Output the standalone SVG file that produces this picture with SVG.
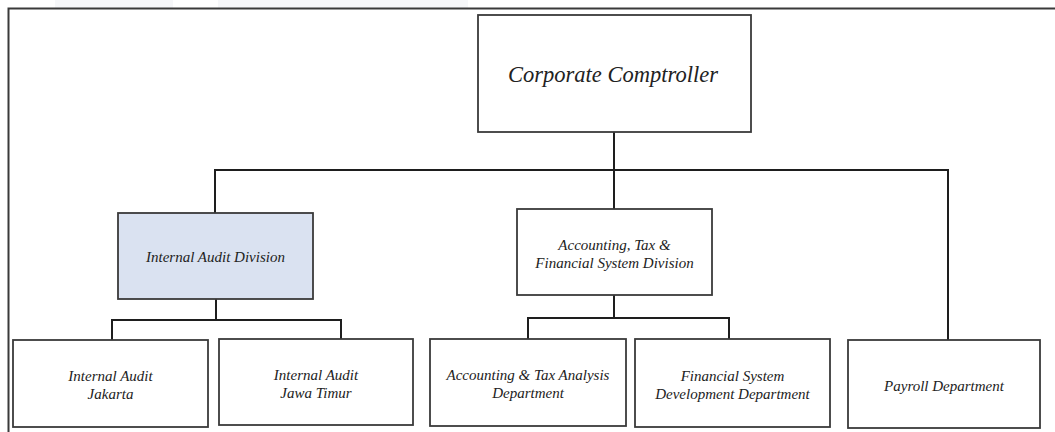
<svg xmlns="http://www.w3.org/2000/svg" width="1055" height="432" viewBox="0 0 1055 432">
<style>
.box{fill:#fff;stroke:#3a3a3a;stroke-width:1.8}
.hl{fill:#dae2f1}
.t{font-family:'Liberation Serif','Times New Roman',Times,serif;font-style:italic;font-size:15px;fill:#222;text-anchor:middle}
.big{font-size:23px}
.ln{fill:none;stroke:#1e1e1e;stroke-width:2}
</style>
<rect x="0" y="0" width="1055" height="432" fill="#fff"/>
<rect x="55" y="0" width="118" height="8" fill="#f6f7f9"/>
<rect x="218" y="0" width="250" height="8" fill="#f6f7f9"/>
<path d="M8.5,432 V8.5 H1055" fill="none" stroke="#3a3a3a" stroke-width="2"/>
<g id="connectors">
<path class="ln" d="M614,132 V209"/>
<path class="ln" d="M215,213 V170 H948 V340"/>
<path class="ln" d="M216,299 V320"/>
<path class="ln" d="M112,340 V320 H341 V339"/>
<path class="ln" d="M614,295 V318"/>
<path class="ln" d="M528,339 V318 H729 V339"/>
</g>
<g id="n-comptroller"><rect class="box" x="478" y="15" width="273" height="117"/><text class="t big" x="613" y="82" textLength="210" lengthAdjust="spacingAndGlyphs">Corporate Comptroller</text></g>
<g id="n-iad"><rect class="box hl" x="118" y="213" width="195" height="86"/><text class="t" x="215.5" y="262">Internal Audit Division</text></g>
<g id="n-atf"><rect class="box" x="517" y="209" width="195" height="86"/><text class="t" x="614.5" y="250">Accounting, Tax &amp;</text><text class="t" x="614.5" y="268">Financial System Division</text></g>
<g id="n-jakarta"><rect class="box" x="13" y="340" width="195" height="87"/><text class="t" x="110.5" y="381">Internal Audit</text><text class="t" x="110.5" y="399">Jakarta</text></g>
<g id="n-jatim"><rect class="box" x="219" y="339" width="194" height="86"/><text class="t" x="316" y="380">Internal Audit</text><text class="t" x="316" y="398">Jawa Timur</text></g>
<g id="n-ata"><rect class="box" x="430" y="339" width="196" height="87"/><text class="t" x="528" y="380">Accounting &amp; Tax Analysis</text><text class="t" x="528" y="398">Department</text></g>
<g id="n-fsd"><rect class="box" x="635" y="339" width="195" height="88"/><text class="t" x="732.5" y="381">Financial System</text><text class="t" x="732.5" y="399">Development Department</text></g>
<g id="n-payroll"><rect class="box" x="848" y="340" width="192" height="88"/><text class="t" x="944" y="391">Payroll Department</text></g>
</svg>
